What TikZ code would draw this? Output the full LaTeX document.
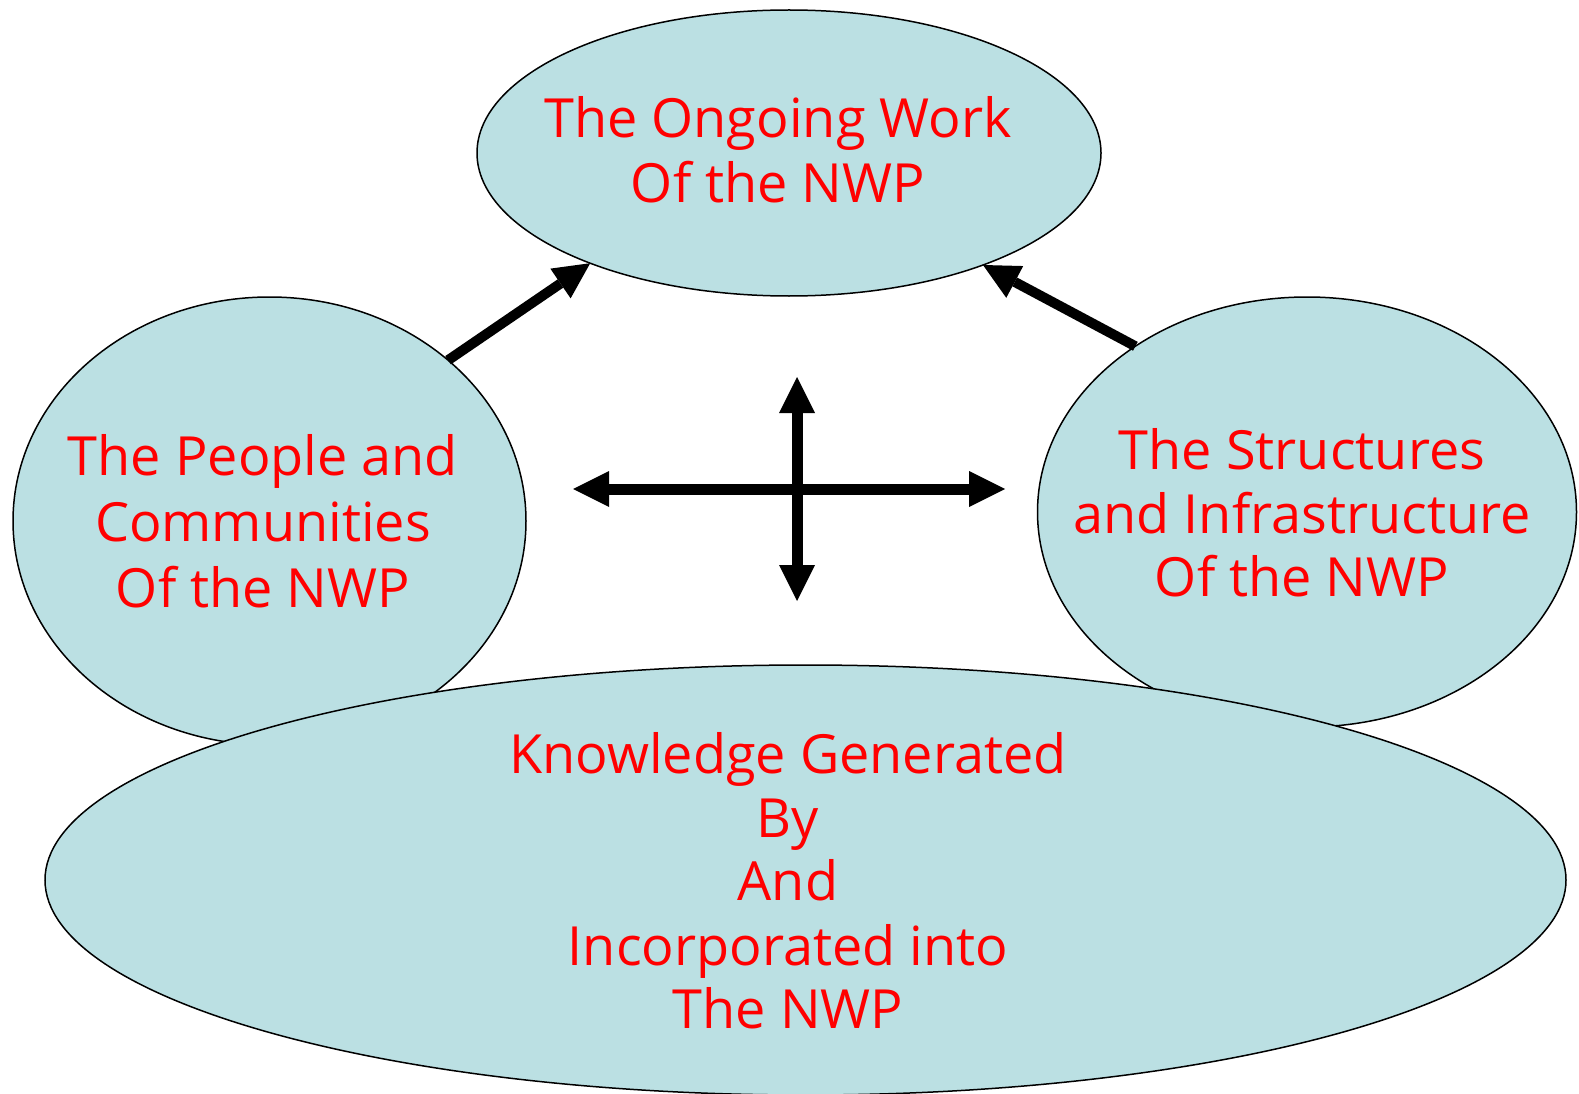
\documentclass[tikz,border=0pt]{standalone}
\usepackage{fontspec}
\setmainfont{Open Sans}
\usetikzlibrary{shapes.geometric,arrows.meta}
\definecolor{bubbleblue}{RGB}{187,224,227}
\definecolor{txtred}{RGB}{255,0,0}
\begin{document}
\begin{tikzpicture}[x=1pt,y=-1pt,
  bubble/.style={ellipse, draw=black, line width=1.5pt, fill=bubbleblue, inner sep=0pt, outer sep=0pt},
  lbl/.style={anchor=base, text=txtred, font=\fontsize{54}{65}\selectfont, inner sep=0pt},
  bigtip/.tip={Triangle[length=36pt,width=36pt,line width=0pt]},
  fat/.style={line width=10pt, -bigtip},
  fatboth/.style={line width=11pt, bigtip-bigtip}]
\useasboundingbox (0,0) rectangle (1579,1094);
% bubbles
\node[bubble, minimum width=624pt, minimum height=286pt] (top) at (789,153) {};
\node[bubble, minimum width=513pt, minimum height=448pt] (left) at (269.5,521) {};
\node[bubble, minimum width=539pt, minimum height=430pt] (right) at (1307,512) {};
\node[bubble, minimum width=1521pt, minimum height=430pt] (bottom) at (805.5,880) {};
% texts
\node[lbl] (t1) at (778,138) {The Ongoing Work};
\node[lbl] (t2) at (778,203) {Of the NWP};
\node[lbl] (l1) at (263,475) {The People and};
\node[lbl] (l2) at (263,541) {Communities};
\node[lbl] (l3) at (263,607) {Of the NWP};
\node[lbl] (r1) at (1302,469) {The Structures};
\node[lbl] (r2) at (1302,533) {and Infrastructure};
\node[lbl] (r3) at (1302,596) {Of the NWP};
\node[lbl] (b1) at (788,773) {Knowledge Generated};
\node[lbl] (b2) at (788,837) {By};
\node[lbl] (b3) at (788,900) {And};
\node[lbl] (b4) at (788,965) {Incorporated into};
\node[lbl] (b5) at (788,1028) {The NWP};
% arrows to the top bubble
\draw[fat] (left.42.5) -- (top.209.1);
\draw[fat] (right.136.8) -- (top.330.9);
% cross
\coordinate (cl) at (573,489);
\coordinate (cr) at (1005,489);
\coordinate (ct) at (797,377);
\coordinate (cb) at (797,601);
\draw[fatboth] (cl) -- (cr);
\draw[fatboth] (ct) -- (cb);
\end{tikzpicture}
\end{document}
